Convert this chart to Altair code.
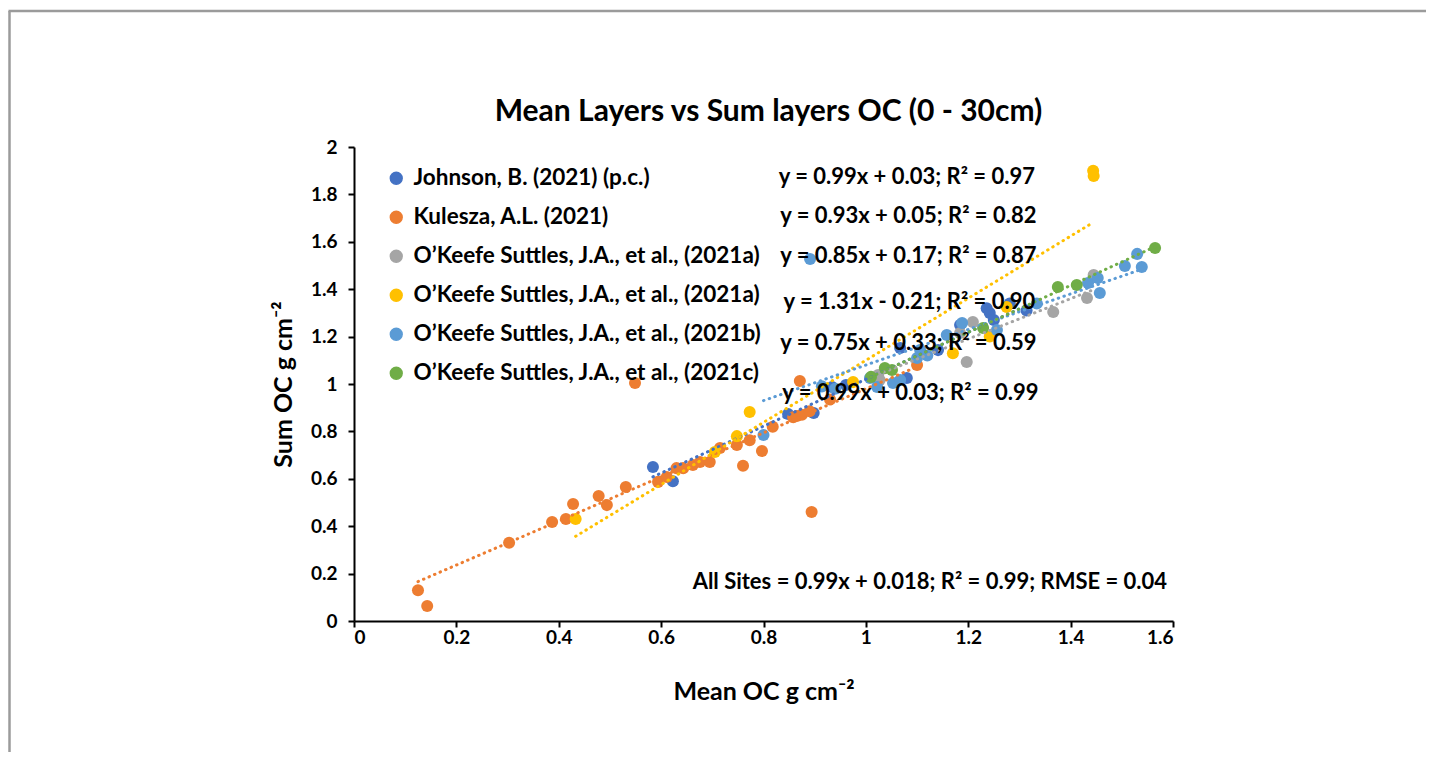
import altair as alt
import pandas as pd

# ---------------- data ----------------
series_names = [
    "Johnson, B. (2021) (p.c.)",
    "Kulesza, A.L. (2021)",
    "O’Keefe Suttles, J.A., et al., (2021a)",
    "O’Keefe Suttles, J.A., et al., (2021a)\u200b",
    "O’Keefe Suttles, J.A., et al., (2021b)",
    "O’Keefe Suttles, J.A., et al., (2021c)",
]
series_colors = ["#4472C4", "#ED7D31", "#A5A5A5", "#FFC000", "#5B9BD5", "#70AD47"]

johnson_x = [0.584, 0.623, 0.848, 0.898, 0.934, 0.961, 1.067, 1.080, 1.141, 1.184, 1.236, 1.242, 1.250, 1.281, 1.314]
johnson_y = [0.650, 0.590, 0.873, 0.878, 0.987, 0.996, 1.152, 1.025, 1.143, 1.249, 1.320, 1.300, 1.270, 1.340, 1.310]

kulesza_x = [0.125, 0.143, 0.303, 0.387, 0.414, 0.428, 0.478, 0.494, 0.531, 0.549, 0.594, 0.611, 0.630,
             0.643, 0.662, 0.676, 0.695, 0.715, 0.748, 0.760, 0.773, 0.797, 0.818, 0.858, 0.865, 0.871,
             0.875, 0.890, 0.894, 0.930, 1.100]
kulesza_y = [0.130, 0.063, 0.330, 0.418, 0.430, 0.494, 0.527, 0.489, 0.565, 1.004, 0.587, 0.608, 0.645,
             0.645, 0.658, 0.671, 0.671, 0.730, 0.743, 0.655, 0.763, 0.717, 0.820, 0.860, 0.865, 1.013,
             0.870, 0.885, 0.460, 0.935, 1.080]

oks_a_gray_x = [1.024, 1.027, 1.184, 1.197, 1.209, 1.366, 1.432, 1.445]
oks_a_gray_y = [1.038, 1.017, 1.215, 1.093, 1.262, 1.304, 1.363, 1.460]

oks_a_yellow_x = [0.433, 0.705, 0.748, 0.773, 0.975, 1.170, 1.242, 1.275, 1.444, 1.445]
oks_a_yellow_y = [0.430, 0.713, 0.780, 0.882, 1.008, 1.130, 1.200, 1.325, 1.900, 1.878]

oks_b_x = [0.800, 0.891, 0.914, 0.940, 1.008, 1.022, 1.053, 1.067, 1.100, 1.106, 1.120, 1.158, 1.188,
           1.256, 1.334, 1.434, 1.453, 1.457, 1.506, 1.530, 1.539]
oks_b_y = [0.785, 1.527, 0.990, 0.980, 1.025, 0.987, 1.004, 1.017, 1.110, 1.143, 1.120, 1.207, 1.257,
           1.228, 1.340, 1.426, 1.447, 1.384, 1.498, 1.549, 1.494]

oks_c_x = [1.010, 1.037, 1.051, 1.229, 1.375, 1.412, 1.565]
oks_c_y = [1.030, 1.067, 1.059, 1.236, 1.409, 1.418, 1.574]

# trend line coefficients (slope, intercept) as printed on the chart
trend_slopes = [0.99, 0.93, 0.85, 1.31, 0.75, 0.99]
trend_intercepts = [0.03, 0.05, 0.17, -0.21, 0.33, 0.03]

equations = [
    "y = 0.99x + 0.03; R² = 0.97",
    "y = 0.93x + 0.05; R² = 0.82",
    "y = 0.85x + 0.17; R² = 0.87",
    "y = 1.31x - 0.21; R² = 0.90",
    "y = 0.75x + 0.33; R² = 0.59",
    "y = 0.99x + 0.03; R² = 0.99",
]
all_sites_text = "All Sites = 0.99x + 0.018; R² = 0.99; RMSE = 0.04"
chart_title = "Mean Layers vs Sum layers OC (0 - 30cm)"

x_ticks = [0, 0.2, 0.4, 0.6, 0.8, 1.0, 1.2, 1.4, 1.6]
y_ticks = [0, 0.2, 0.4, 0.6, 0.8, 1.0, 1.2, 1.4, 1.6, 1.8, 2.0]

# ---------------- layout (annotation anchors in data units) ----------------
eq_x = [1.080, 1.083, 1.083, 1.085, 1.083, 1.087]
eq_y = [1.873, 1.709, 1.540, 1.346, 1.173, 0.962]
all_sites_pos = (1.125, 0.165)

FONT = "Lato"
W, H = 819, 474

# ---------------- build tables ----------------
xs = [johnson_x, kulesza_x, oks_a_gray_x, oks_a_yellow_x, oks_b_x, oks_c_x]
ys = [johnson_y, kulesza_y, oks_a_gray_y, oks_a_yellow_y, oks_b_y, oks_c_y]

rows = []
for i, (name, sx, sy) in enumerate(zip(series_names, xs, ys)):
    for a, b in zip(sx, sy):
        rows.append({"series": name, "order": i, "x": a, "y": b})
points = pd.DataFrame(rows)

trows = []
for i, name in enumerate(series_names):
    lo, hi = min(xs[i]), max(xs[i])
    for xv in (lo, hi):
        trows.append({"series": name, "x": xv, "y": trend_slopes[i] * xv + trend_intercepts[i]})
trend = pd.DataFrame(trows)

eq_df = pd.DataFrame({"text": equations, "x": eq_x, "y": eq_y})
all_df = pd.DataFrame({"text": [all_sites_text], "x": [all_sites_pos[0]], "y": [all_sites_pos[1]]})
title_df = pd.DataFrame({"text": [chart_title]})

xscale = alt.Scale(domain=[0, 1.6], nice=False, zero=False)
yscale = alt.Scale(domain=[0, 2], nice=False, zero=False)
color_scale = alt.Scale(domain=series_names, range=series_colors)

x_axis = alt.Axis(values=x_ticks, format="~g", title="Mean OC g cm⁻²", titleFontSize=25,
                  titleY=70, titleBaseline="middle", labelPadding=1)
y_axis = alt.Axis(values=y_ticks, format="~g", title="Sum OC g cm⁻²", titleFontSize=25,
                  titleX=-71, titleY=H / 2, titleAngle=-90, titleBaseline="middle", labelPadding=11)

pts = alt.Chart(points).mark_circle(size=145, opacity=1).encode(
    x=alt.X("x:Q", scale=xscale, axis=x_axis),
    y=alt.Y("y:Q", scale=yscale, axis=y_axis),
    color=alt.Color("series:N", scale=color_scale, sort=series_names,
                    legend=alt.Legend(title=None, orient="none", legendX=31, legendY=20,
                                      symbolType="circle", symbolSize=140, labelFontSize=22.5,
                                      labelFont=FONT, labelFontWeight="bold", labelColor="black",
                                      rowPadding=16, labelOffset=6, padding=0, labelLimit=600)),
    order=alt.Order("order:Q"),
)

lines = alt.Chart(trend).mark_line(strokeWidth=3, strokeDash=[0.5, 5.5], strokeCap="round").encode(
    x="x:Q", y="y:Q",
    color=alt.Color("series:N", scale=color_scale, legend=None),
    detail="series:N",
)

eqs = alt.Chart(eq_df).mark_text(fontSize=22, font=FONT, fontWeight="bold", color="black",
                                 align="center", baseline="middle").encode(
    x="x:Q", y="y:Q", text="text:N")

alls = alt.Chart(all_df).mark_text(fontSize=22, font=FONT, fontWeight="bold", color="black",
                                   align="center", baseline="middle").encode(
    x="x:Q", y="y:Q", text="text:N")

ttl = alt.Chart(title_df).mark_text(fontSize=30, font=FONT, fontWeight="bold", color="black",
                                    align="center", baseline="middle").encode(
    x=alt.value(414.5), y=alt.value(-35), text="text:N")

frame_left = alt.Chart(pd.DataFrame({"a": [0]})).mark_rule(color="#9b9b9b", strokeWidth=2.5).encode(
    x=alt.value(-344.5), y=alt.value(-136), y2=alt.value(H + 131))
frame_top = alt.Chart(pd.DataFrame({"a": [0]})).mark_rule(color="#9b9b9b", strokeWidth=2.5).encode(
    x=alt.value(-345.5), x2=alt.value(W + 253), y=alt.value(-136))

chart = alt.layer(frame_left, frame_top, pts, lines, eqs, alls, ttl).properties(
    width=W, height=H,
    background="white",
    autosize=alt.AutoSizeParams(type="none"),
    padding={"left": 346, "top": 139, "right": 253, "bottom": 131},
).configure_view(stroke=None).configure_axis(
    grid=False, domainColor="black", domainWidth=2, tickColor="black", tickWidth=2, tickSize=6,
    labelFont=FONT, labelFontSize=19, labelFontWeight="bold", labelColor="black",
    titleFont=FONT, titleFontWeight="bold", titleColor="black",
)

chart.save("out.html", embed_options={"renderer": "svg", "actions": False})
